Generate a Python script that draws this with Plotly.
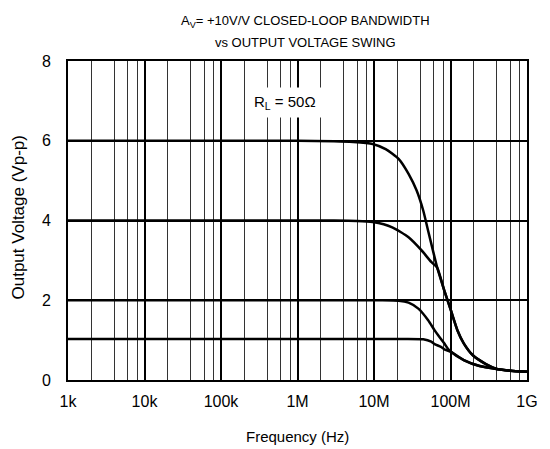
import plotly.graph_objects as go

# ---- data ----
x_tick_vals = [1e3, 1e4, 1e5, 1e6, 1e7, 1e8, 1e9]
x_tick_text = ["1k", "10k", "100k", "1M", "10M", "100M", "1G"]
y_tick_vals = [0, 2, 4, 6, 8]

f_6v = [1e3, 1e4, 1e5, 1e6, 3e6, 5.35e6, 9.6e6, 14.2e6, 21.1e6, 28.3e6, 36.1e6, 44e6, 50.9e6,
        58.9e6, 66.8e6, 82.8e6, 101e6, 123e6, 149e6, 196e6, 290e6, 400e6, 600e6, 1e9]
v_6v = [6.0, 6.0, 6.0, 6.0, 5.99, 5.97, 5.92, 5.79, 5.54, 5.17, 4.75, 4.25, 3.75,
        3.25, 2.83, 2.25, 1.75, 1.25, 0.92, 0.62, 0.40, 0.28, 0.235, 0.21]

f_4v = [1e3, 1e4, 1e5, 1e6, 3e6, 6e6, 9.6e6, 17.3e6, 28.3e6, 41.9e6, 56e6, 66.8e6,
        82.8e6, 101e6, 123e6, 149e6, 196e6, 290e6, 400e6, 600e6, 1e9]
v_4v = [4.0, 4.0, 4.0, 4.0, 4.0, 3.99, 3.96, 3.83, 3.58, 3.25, 2.96, 2.82,
        2.25, 1.75, 1.25, 0.92, 0.62, 0.40, 0.28, 0.235, 0.21]

f_2v = [1e3, 1e4, 1e5, 1e6, 5e6, 12e6, 21e6, 28.3e6, 38e6, 51e6, 61.8e6, 69e6, 82.8e6, 92e6, 101e6,
        149e6, 240e6, 400e6, 600e6, 1e9]
v_2v = [2.0, 2.0, 2.0, 2.0, 2.0, 2.0, 1.99, 1.94, 1.79, 1.5, 1.25, 1.12, 0.92, 0.79, 0.71,
        0.5, 0.35, 0.275, 0.235, 0.21]

f_1v = [1e3, 1e4, 1e5, 1e6, 1e7, 25e6, 44e6, 56e6, 62e6, 75e6, 83e6, 97e6, 101e6,
        149e6, 240e6, 400e6, 600e6, 1e9]
v_1v = [1.03, 1.03, 1.03, 1.03, 1.03, 1.03, 1.02, 0.96, 0.90, 0.83, 0.77, 0.72, 0.71,
        0.5, 0.35, 0.275, 0.235, 0.21]

minor_vals = [m * 10 ** e for e in range(3, 9) for m in (2, 4, 6, 8)]

FONT = "Liberation Sans, Arial, sans-serif"

fig = go.Figure()
for fx, vy in [(f_6v, v_6v), (f_4v, v_4v), (f_2v, v_2v), (f_1v, v_1v)]:
    fig.add_trace(go.Scatter(x=fx, y=vy, mode="lines",
                             line=dict(color="black", width=2.5, shape="spline", smoothing=0.6),
                             showlegend=False, hoverinfo="skip"))

# page body has an 8px default margin; figure is sized/placed to compensate
fig.update_layout(
    width=540, height=441,
    margin=dict(l=60, r=10, t=53, b=69),
    paper_bgcolor="white", plot_bgcolor="white",
    font=dict(family=FONT, size=16, color="black"),
    showlegend=False,
)

fig.update_xaxes(
    type="log", range=[3, 9],
    tickmode="array", tickvals=x_tick_vals, ticktext=x_tick_text,
    showgrid=True, gridcolor="black", gridwidth=2,
    showline=True, linecolor="black", linewidth=2, mirror=True,
    ticks="", tickfont=dict(family=FONT, size=16), ticklabelstandoff=6,
    minor=dict(tickmode="array", tickvals=minor_vals, showgrid=True,
               gridcolor="#333333", gridwidth=1, ticks=""),
    zeroline=False,
)
fig.update_yaxes(
    range=[0, 8], tickmode="array", tickvals=y_tick_vals,
    showgrid=True, gridcolor="black", gridwidth=1.5,
    showline=True, linecolor="black", linewidth=2, mirror=True,
    ticks="", tickfont=dict(family=FONT, size=16),
    ticklabelstandoff=12, zeroline=False,
)

fig.add_annotation(x=0.517, y=1, xref="paper", yref="paper", yshift=40,
                   text="A<sub>V</sub>= +10V/V CLOSED-LOOP BANDWIDTH", showarrow=False,
                   yanchor="middle", font=dict(family=FONT, size=13))
fig.add_annotation(x=0.517, y=1, xref="paper", yref="paper", yshift=19,
                   text="vs OUTPUT VOLTAGE SWING", showarrow=False,
                   yanchor="middle", font=dict(family=FONT, size=13))
fig.add_annotation(x=0.5, y=0, xref="paper", yref="paper", yshift=-56,
                   text="Frequency (Hz)", showarrow=False, yanchor="middle",
                   font=dict(family=FONT, size=15))
fig.add_annotation(x=0, y=0.5, xref="paper", yref="paper", xshift=-50, yshift=3,
                   text="Output Voltage (Vp-p)", showarrow=False, textangle=-90,
                   xanchor="center", yanchor="middle", font=dict(family=FONT, size=17))
fig.add_annotation(x=5.83, y=6.95, xref="x", yref="y",
                   text="R<sub>L</sub> = 50Ω", showarrow=False,
                   bgcolor="white", borderpad=5,
                   font=dict(family=FONT, size=15))

fig.write_html("out.html")
